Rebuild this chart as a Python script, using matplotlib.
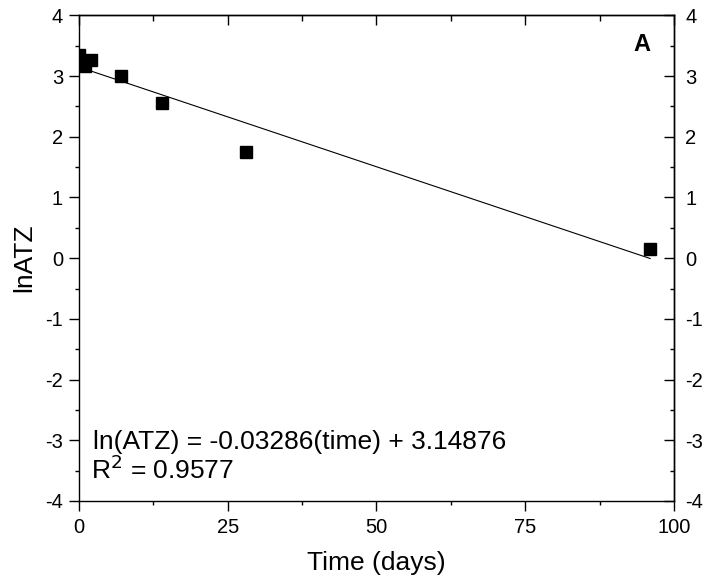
import matplotlib
matplotlib.use("Agg")
import matplotlib.pyplot as plt
from matplotlib.ticker import MultipleLocator
import numpy as np

plt.rcParams['font.family'] = ['Liberation Sans', 'DejaVu Sans']
plt.rcParams['axes.unicode_minus'] = False

# measured ln(ATZ) values
time_days = [0, 1, 2, 7, 14, 28, 96]
ln_atz = [3.35, 3.16, 3.27, 3.0, 2.55, 1.75, 0.15]

# linear fit as printed on the chart
slope = -0.03286
intercept = 3.14876
fit_range = [0, 96]
r_squared = 0.9577

fig = plt.figure(figsize=(7.09, 5.85), dpi=100)
ax = fig.add_axes([0.1114, 0.1436, 0.8392, 0.8302])

fx = np.array(fit_range, dtype=float)
ax.plot(fx, slope * fx + intercept, color='black', lw=0.8)
ax.plot(time_days, ln_atz, 's', color='black', ms=8)

ax.set_xlim(0, 100)
ax.set_ylim(-4, 4)
ax.xaxis.set_major_locator(MultipleLocator(25))
ax.xaxis.set_minor_locator(MultipleLocator(12.5))
ax.yaxis.set_major_locator(MultipleLocator(1))
ax.yaxis.set_minor_locator(MultipleLocator(0.5))

for s in ax.spines.values():
    s.set_linewidth(1.0)

ax.tick_params(which='both', direction='out', top=False, right=False,
               labelsize=14.5, width=1.0)
ax.tick_params(which='major', length=7.5)
ax.tick_params(which='minor', length=3)
ax.tick_params(axis='x', pad=5)
ax.tick_params(axis='y', pad=4)

# inward ticks along the top edge
sec = ax.secondary_xaxis('top')
sec.xaxis.set_major_locator(MultipleLocator(25))
sec.xaxis.set_minor_locator(MultipleLocator(12.5))
sec.tick_params(which='both', direction='in', labeltop=False, width=1.0)
sec.tick_params(which='major', length=7)
sec.tick_params(which='minor', length=4)
sec.spines['top'].set_linewidth(1.0)

# inward ticks with labels on the right edge
secy = ax.secondary_yaxis('right')
secy.yaxis.set_major_locator(MultipleLocator(1))
secy.yaxis.set_minor_locator(MultipleLocator(0.5))
secy.tick_params(which='both', direction='in', width=1.0, labelsize=14.5, pad=8)
secy.tick_params(which='major', length=7)
secy.tick_params(which='minor', length=3)
secy.spines['right'].set_linewidth(1.0)

ax.set_xlabel('Time (days)', fontsize=19)
ax.xaxis.set_label_coords(0.5, -0.103)
ax.set_ylabel('lnATZ', fontsize=19)
ax.yaxis.set_label_coords(-0.072, 0.5)

ax.text(2.4, -3.14, 'ln(ATZ) = %.5f(time) + %.5f' % (slope, intercept),
        fontsize=19, va='baseline', ha='left')
ax.text(2.1, -3.64, 'R$^2$ = %.4f' % r_squared, fontsize=19,
        va='baseline', ha='left')
ax.text(0.961, 0.9265, 'A', transform=ax.transAxes, fontsize=17,
        fontweight='bold', ha='right', va='baseline')

fig.savefig('out.png', dpi=100)
